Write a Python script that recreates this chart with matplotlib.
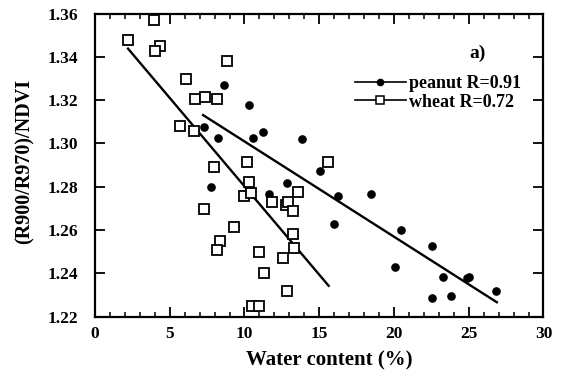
import matplotlib
matplotlib.use("Agg")
import matplotlib.pyplot as plt
from matplotlib.lines import Line2D
from matplotlib.ticker import MultipleLocator

plt.rcParams['font.family'] = ['Liberation Serif', 'DejaVu Serif']
plt.rcParams['font.weight'] = 'bold'

# Data
peanut_x = [8.64, 10.27, 7.26, 8.22, 10.6, 11.25, 7.73, 11.63, 12.85, 13.84, 15.05,
            16.23, 18.46, 15.96, 20.5, 22.53, 20.09, 23.27, 24.87, 25.05, 26.83, 22.53, 23.8]
peanut_y = [1.3268, 1.3177, 1.3078, 1.3027, 1.3027, 1.3054, 1.2800, 1.2768, 1.2815, 1.3020, 1.2872,
            1.2759, 1.2767, 1.2628, 1.2600, 1.2527, 1.2429, 1.2384, 1.2379, 1.2382, 1.2318, 1.2284, 1.2294]

wheat_x = [3.95, 2.23, 4.33, 4.02, 8.82, 6.12, 6.70, 7.37, 8.19, 5.67, 6.65, 7.93, 10.16,
           10.31, 9.98, 10.47, 11.85, 12.75, 12.9, 7.32, 9.31, 8.37, 8.17, 10.98, 12.6,
           11.33, 12.85, 10.5, 11.0, 15.61, 13.58, 13.26, 13.22, 13.28]
wheat_y = [1.3570, 1.3480, 1.3450, 1.3425, 1.3382, 1.3299, 1.3206, 1.3213, 1.3205, 1.3081, 1.3055, 1.2893, 1.2913,
           1.2822, 1.2758, 1.2770, 1.2728, 1.2715, 1.2730, 1.2696, 1.2614, 1.2550, 1.2507, 1.2498, 1.2469,
           1.2400, 1.2318, 1.2247, 1.2247, 1.2916, 1.2776, 1.2688, 1.2581, 1.2515]

peanut_fit_x = [7.23, 26.88]
peanut_fit_y = [1.3131, 1.2266]
wheat_fit_x = [2.21, 15.63]
wheat_fit_y = [1.3438, 1.2342]

peanut_label = "peanut R=0.91"
wheat_label = "wheat R=0.72"

fig = plt.figure(figsize=(5.62, 3.83), dpi=100)
ax = fig.add_axes([0.169, 0.1736, 0.798, 0.791])

ax.plot(peanut_fit_x, peanut_fit_y, color='black', lw=1.7, zorder=2)
ax.plot(wheat_fit_x, wheat_fit_y, color='black', lw=1.7, zorder=2)
ax.plot(peanut_x, peanut_y, 'o', color='black', ms=5.2, zorder=3)
ax.plot(wheat_x, wheat_y, 's', mfc='white', mec='black', mew=1.3, ms=6.5, zorder=3)

ax.set_xlim(0, 30)
ax.set_ylim(1.22, 1.36)
ax.xaxis.set_major_locator(MultipleLocator(5))
ax.xaxis.set_minor_locator(MultipleLocator(1))
ax.yaxis.set_major_locator(MultipleLocator(0.02))
ax.set_yticks(ax.get_yticks())
ax.set_yticklabels([f"{v:.2f}" for v in ax.get_yticks()])
ax.set_ylim(1.22, 1.36)

ax.tick_params(axis='both', which='major', direction='in', length=7, width=1.3,
               top=True, right=True, labelsize=12.5)
ax.tick_params(axis='y', which='major', pad=12)
ax.tick_params(axis='x', which='major', pad=7)
ax.tick_params(axis='x', which='minor', direction='in', length=3.5, width=1.1, top=True)
for s in ax.spines.values():
    s.set_linewidth(1.6)
for lab in ax.get_xticklabels() + ax.get_yticklabels():
    lab.set_fontweight('bold')

ax.set_xlabel("Water content (%)", fontsize=15, fontweight='bold')
ax.xaxis.set_label_coords(0.522, -0.112)
ax.set_ylabel("(R900/R970)/NDVI", fontsize=14.5, fontweight='bold')
ax.yaxis.set_label_coords(-0.135, 0.512)

ax.text(0.853, 0.870, "a)", transform=ax.transAxes, fontsize=14, fontweight='bold',
        ha='center', va='center')

handles = [Line2D([0], [0], color='black', lw=1.2, marker='o', ms=4.5),
           Line2D([0], [0], color='black', lw=1.2, marker='s', ms=5.5, mfc='white', mew=1.1)]
ax.legend(handles, [peanut_label, wheat_label], loc='upper left',
          bbox_to_anchor=(0.580, 0.796), frameon=False,
          handlelength=2.8, handletextpad=0.2, labelspacing=0.08, borderpad=0,
          borderaxespad=0, prop={'weight': 'bold', 'size': 13})

fig.savefig("out.png", dpi=100)
